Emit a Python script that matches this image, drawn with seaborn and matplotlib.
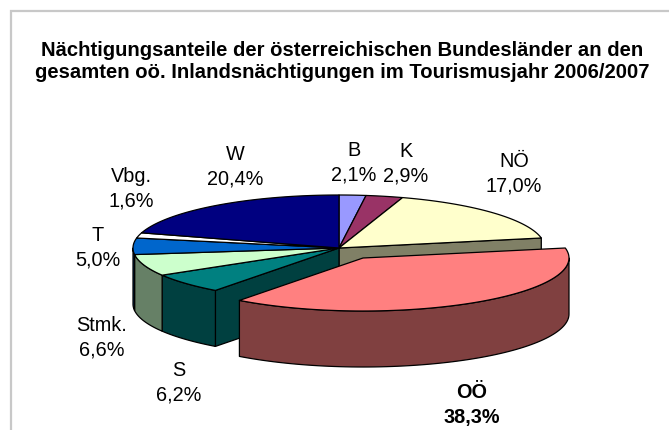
import numpy as np
import matplotlib
matplotlib.use('Agg')
import matplotlib.pyplot as plt
import seaborn as sns

titel = 'Nächtigungsanteile der österreichischen Bundesländer an den\ngesamten oö. Inlandsnächtigungen im Tourismusjahr 2006/2007'
laender = ['B', 'K', 'NÖ', 'OÖ', 'S', 'Stmk.', 'T', 'Vbg.', 'W']
anteile = [2.1, 2.9, 17.0, 38.3, 6.2, 6.6, 5.0, 1.6, 20.4]
farben = ['#9999FF', '#993366', '#FFFFCC', '#FF8080', '#008080', '#CCFFCC', '#0066CC', '#FFFFFF', '#000080']
label_x = [354, 406, 514, 472, 179, 102, 98, 131, 235]
label_y = [163, 164, 174, 405, 383, 338, 248, 189, 167]

sns.set_theme(style='white')
plt.rcParams['font.family'] = ['Liberation Sans', 'DejaVu Sans']

palette = sns.color_palette(farben)
seiten = [tuple(0.5 * c for c in f) for f in palette]

# geometrie der 3d torte in pixeln
cx, cy = 339, 248
rx, ry = 206, 53
tiefe = 56
ox, oy = 24, 10  # OÖ herausgezogen

fig = plt.figure(figsize=(6.69, 4.30), dpi=100)
ax = fig.add_axes([0, 0, 1, 1])
ax.set_xlim(0, 669)
ax.set_ylim(430, 0)
ax.axis('off')

# rahmen ist rechts und unten abgeschnitten
ax.plot([10.5, 10.5, 669], [430, 10.5, 10.5], color='#c8c8c8', lw=1.6, zorder=1, solid_joinstyle='miter')

ax.text(342, 61, titel, ha='center', va='center', fontsize=14.6, fontweight='bold',
        color='black', linespacing=1.2)


def bogen(a0, a1, dx=0, dy=0):
    # winkel im uhrzeigersinn von oben, in grad
    w = np.radians(np.linspace(a0, a1, 80))
    return cx + dx + rx * np.sin(w), cy + dy - ry * np.cos(w)


def deckel(a0, a1, farbe, dx=0, dy=0, z=3):
    x, y = bogen(a0, a1, dx, dy)
    ax.fill(np.r_[cx + dx, x], np.r_[cy + dy, y], facecolor=farbe, edgecolor='black', lw=0.9,
            zorder=z, joinstyle='round')


def mantel(a0, a1, farbe, dx=0, dy=0, z=2):
    # nur der vordere teil (90 bis 270 grad) ist sichtbar
    a0, a1 = max(a0, 90), min(a1, 270)
    if a1 <= a0:
        return
    x, y = bogen(a0, a1, dx, dy)
    ax.fill(np.r_[x, x[::-1]], np.r_[y, y[::-1] + tiefe], facecolor=farbe, edgecolor='black',
            lw=0.9, zorder=z, joinstyle='round')


def wand(a, farbe, z=2):
    x, y = bogen(a, a)
    ax.fill([cx, x[0], x[0], cx], [cy, y[0], y[0] + tiefe, cy + tiefe], facecolor=farbe,
            edgecolor='black', lw=0.9, zorder=z)


grenzen = np.r_[0, np.cumsum(anteile)] / sum(anteile) * 360

# innenwaende links und rechts vom herausgezogenen stueck
wand(grenzen[3], seiten[2])
wand(grenzen[4], seiten[4])

for i, land in enumerate(laender):
    if land == 'OÖ':
        mantel(grenzen[i], grenzen[i + 1], seiten[i], ox, oy, z=4)
        deckel(grenzen[i], grenzen[i + 1], palette[i], ox, oy, z=5)
    else:
        mantel(grenzen[i], grenzen[i + 1], seiten[i])
        deckel(grenzen[i], grenzen[i + 1], palette[i])

for land, wert, x, y in zip(laender, anteile, label_x, label_y):
    text = land + '\n' + f'{wert:.1f}%'.replace('.', ',')
    ax.text(x, y, text, ha='center', va='center', fontsize=14.3, color='black', linespacing=1.35,
            fontweight='bold' if land == 'OÖ' else 'normal', zorder=6)

fig.savefig('out.png', dpi=100)
